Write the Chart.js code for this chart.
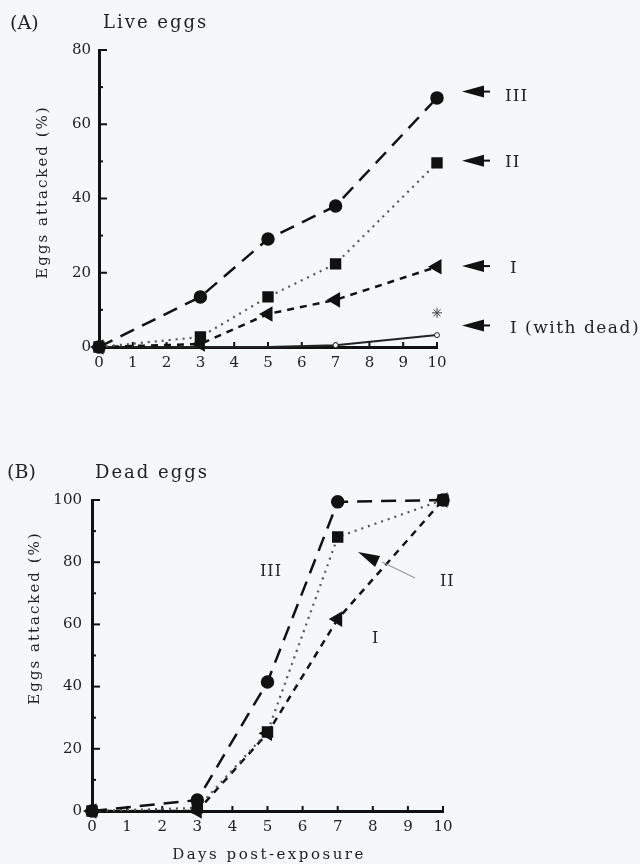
<!DOCTYPE html>
<html>
<head>
<meta charset="utf-8">
<script src="https://cdn.jsdelivr.net/npm/chart.js@4.4.1/dist/chart.umd.min.js"></script>
<style>
  html, body { margin:0; padding:0; background:#f4f8f8; }
  #wrap { position:relative; width:640px; height:864px; overflow:hidden; background:#f4f8f8; }
  canvas { position:absolute; left:0; }
  .t { position:absolute; font-family:'DejaVu Serif', serif; white-space:nowrap; line-height:1; color:#222; }
  .rot { transform:translate(-50%,-50%) rotate(-90deg); }
  .ctr { transform:translate(-50%,-50%); }
</style>
</head>
<body>
<div id="wrap">
  <canvas id="cA" width="640" height="400" style="top:0"></canvas>
  <canvas id="cB" width="640" height="444" style="top:420px"></canvas>

  <div class="t" style="left:10px;top:13px;font-size:19px;">(A)</div>
  <div class="t" style="left:103px;top:13px;font-size:18px;letter-spacing:2px;">Live eggs</div>
  <div class="t rot" style="left:42px;top:192px;font-size:15px;letter-spacing:2px;">Eggs attacked (%)</div>
  <div class="t" style="left:505px;top:87px;font-size:17px;letter-spacing:1px;">III</div>
  <div class="t" style="left:505px;top:153px;font-size:17px;letter-spacing:1px;">II</div>
  <div class="t" style="left:510px;top:259px;font-size:17px;">I</div>
  <div class="t" style="left:510px;top:319px;font-size:17px;letter-spacing:1.5px;">I (with dead)</div>

  <div class="t" style="left:7px;top:462px;font-size:19px;">(B)</div>
  <div class="t" style="left:95px;top:463px;font-size:18px;letter-spacing:2px;">Dead eggs</div>
  <div class="t rot" style="left:34px;top:618px;font-size:15px;letter-spacing:2px;">Eggs attacked (%)</div>
  <div class="t" style="left:260px;top:563px;font-size:16px;letter-spacing:1px;">III</div>
  <div class="t" style="left:440px;top:573px;font-size:16px;letter-spacing:1px;">II</div>
  <div class="t" style="left:372px;top:630px;font-size:16px;">I</div>
  <div class="t ctr" style="left:269px;top:854px;font-size:15px;letter-spacing:2.5px;">Days post-exposure</div>
</div>
<script>
// ---------- DATA ----------
const days = [0, 3, 5, 7, 10];
const xTicks = [0,1,2,3,4,5,6,7,8,9,10];

// (A) Live eggs
const liveIII = [0, 13.5, 29.1, 38.0, 67.1];
const liveII  = [0, 2.7, 13.5, 22.4, 49.6];
const liveI   = [0, 0.8, 8.9, 12.7, 21.6];
const liveIwithDead = [0, 0, 0, 0.5, 3.2];
const liveStarDay = [10];
const liveStar = [9.2];
const arrowLevelsA = [68.8, 50.2, 21.8, 5.8];   // arrow annotation levels (III, II, I, I with dead)

// (B) Dead eggs
const deadIII = [0, 3.5, 41.5, 99.4, 100];
const deadII  = [0, 1.0, 25.4, 88.1, 100];
const deadI   = [0, 0, 25.0, 61.7, 100];
const arrowB = {x: 7.58, y: 83.3};  // pointer toward series II in (B)

// ---------- helpers ----------
const FONT = "'DejaVu Serif', serif";
const INK = '#111';
const pts = (xs, ys) => xs.map((x, i) => ({x, y: ys[i]}));

const innerTicks = {
  id: 'innerTicks',
  beforeDatasetsDraw(chart) {
    const {ctx, scales:{x, y}, chartArea:ca} = chart;
    ctx.save();
    ctx.strokeStyle = INK;
    ctx.lineWidth = 2;
    y.ticks.forEach(t => {
      const py = y.getPixelForValue(t.value);
      const len = (t.value % 20 === 0) ? 8 : 4;
      ctx.beginPath(); ctx.moveTo(ca.left, py); ctx.lineTo(ca.left + len, py); ctx.stroke();
    });
    x.ticks.forEach(t => {
      const px = x.getPixelForValue(t.value);
      ctx.beginPath(); ctx.moveTo(px, ca.bottom); ctx.lineTo(px, ca.bottom - 5); ctx.stroke();
    });
    ctx.restore();
  }
};

function baseOptions(yMax, yWidth, padRight, padTop, padBottom, labelPad) {
  return {
    responsive: false,
    animation: false,
    events: [],
    layout: { autoPadding: false, padding: { left: 0, right: padRight, top: padTop, bottom: padBottom } },
    plugins: { legend: { display: false }, tooltip: { enabled: false }, title: { display: false } },
    scales: {
      x: {
        type: 'linear', min: 0, max: 10,
        afterBuildTicks: s => { s.ticks = xTicks.map(v => ({value: v})); },
        ticks: { font: { family: FONT, size: 15 }, color: '#222', padding: 7, maxRotation: 0 },
        grid: { display: true, drawOnChartArea: false, drawTicks: false },
        border: { display: true, width: 3, color: INK },
        afterFit: s => { s.height = 30; }
      },
      y: {
        type: 'linear', min: 0, max: yMax,
        ticks: { stepSize: 10, font: { family: FONT, size: 15 }, color: '#222', padding: labelPad,
                 callback: v => (v % 20 === 0 ? String(v) : '') },
        grid: { display: true, drawOnChartArea: false, drawTicks: false },
        border: { display: true, width: 3, color: INK },
        afterFit: s => { s.width = yWidth; }
      }
    }
  };
}

const dsIII = (data) => ({ data, borderColor: INK, backgroundColor: INK, pointBorderColor: INK, borderWidth: 2.5,
  borderDash: [15, 9], pointStyle: 'circle', pointRadius: 5.5, clip: false, order: 1 });
const dsII = (data) => ({ data, borderColor: '#555', backgroundColor: INK, pointBorderColor: INK, pointBackgroundColor: INK,
  borderWidth: 2.2, borderDash: [2, 5], pointStyle: 'rect', pointRadius: 6.5, clip: false, order: 2 });
const dsI = (data) => ({ data, borderColor: INK, backgroundColor: INK, pointBorderColor: INK, borderWidth: 2.5,
  borderDash: [7, 6], pointStyle: 'triangle', pointRotation: -90, pointRadius: 6.5, clip: false, order: 3 });

// ---------- Chart A ----------
const arrowsA = {
  id: 'arrowsA',
  afterDraw(chart) {
    const {ctx, scales:{y}, chartArea:ca} = chart;
    ctx.save();
    ctx.fillStyle = INK; ctx.strokeStyle = INK; ctx.lineWidth = 2;
    arrowLevelsA.forEach(v => {
      const py = y.getPixelForValue(v);
      const tx = ca.right + 25;
      ctx.beginPath();
      ctx.moveTo(tx, py); ctx.lineTo(tx + 22, py - 6); ctx.lineTo(tx + 22, py + 6); ctx.closePath(); ctx.fill();
      ctx.beginPath(); ctx.moveTo(tx + 20, py); ctx.lineTo(tx + 28, py); ctx.stroke();
    });
    ctx.restore();
  }
};

new Chart(document.getElementById('cA'), {
  type: 'line',
  data: { datasets: [
    dsIII(pts(days, liveIII)),
    dsII(pts(days, liveII)),
    dsI(pts(days, liveI)),
    { data: pts(days, liveIwithDead), borderColor: '#222', backgroundColor: '#f4f8f8', borderWidth: 2,
      pointStyle: 'circle', pointRadius: [0, 0, 0, 2.5, 2.5], pointBorderWidth: 1, clip: false, order: 4 },
    { data: pts(liveStarDay, liveStar), showLine: false, borderColor: '#444', backgroundColor: '#444',
      pointStyle: 'star', pointRadius: 5, pointBorderWidth: 1, clip: false, order: 5 }
  ]},
  options: baseOptions(80, 99, 203, 50, 23, 8),
  plugins: [innerTicks, arrowsA]
});

// ---------- Chart B ----------
const arrowBPlugin = {
  id: 'arrowB',
  afterDraw(chart) {
    const {ctx, scales:{x, y}} = chart;
    const tx = x.getPixelForValue(arrowB.x), ty = y.getPixelForValue(arrowB.y);
    ctx.save();
    ctx.fillStyle = INK;
    ctx.beginPath();
    ctx.moveTo(tx, ty); ctx.lineTo(tx + 22, ty + 4); ctx.lineTo(tx + 17, ty + 15); ctx.closePath(); ctx.fill();
    ctx.strokeStyle = '#999'; ctx.lineWidth = 1.2;
    ctx.beginPath(); ctx.moveTo(tx + 24, ty + 10); ctx.lineTo(tx + 57, ty + 26); ctx.stroke();
    ctx.restore();
  }
};

new Chart(document.getElementById('cB'), {
  type: 'line',
  data: { datasets: [
    dsIII(pts(days, deadIII)),
    dsII(pts(days, deadII)),
    dsI(pts(days, deadI))
  ]},
  options: baseOptions(100, 92, 197, 80, 23, 10),
  plugins: [innerTicks, arrowBPlugin]
});
</script>
</body>
</html>
